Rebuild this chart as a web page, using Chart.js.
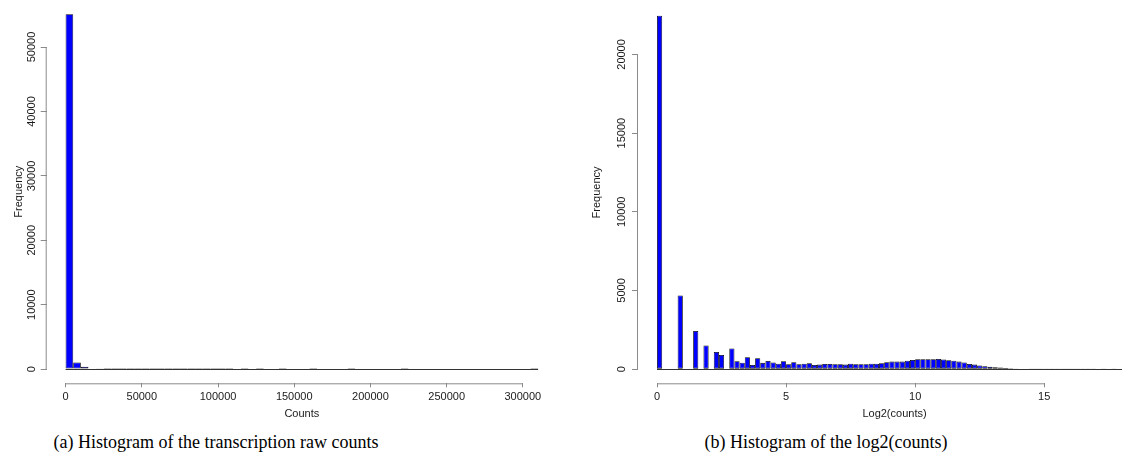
<!DOCTYPE html>
<html>
<head>
<meta charset="utf-8">
<script src="https://cdn.jsdelivr.net/npm/chart.js@4.4.1/dist/chart.umd.min.js"></script>
<style>
  html, body { margin: 0; padding: 0; background: #fff; overflow: hidden; }
  #page { position: relative; width: 1122px; height: 470px; overflow: hidden; }
  .panel { position: absolute; top: 0; width: 561px; height: 425px; overflow: hidden; }
  #left { left: 0; }
  #right { left: 561px; }
  .caption {
    position: absolute; white-space: nowrap; color: #000;
    font-family: "Liberation Serif", "DejaVu Serif", serif; font-size: 18px;
    transform: translateX(-50%);
  }
</style>
</head>
<body>
<div id="page">
  <div class="panel" id="left"><canvas id="rawChart" width="561" height="425"></canvas></div>
  <div class="panel" id="right"><canvas id="logChart" width="590" height="425"></canvas></div>
  <div class="caption" style="left:216px; top:432px">(a) Histogram of the transcription raw counts</div>
  <div class="caption" style="left:826px; top:432px">(b) Histogram of the log2(counts)</div>
</div>

<script>
// raw counts, bins of 5000 starting at 0
const rawBinWidth = 5000;
const rawFreq = [
  55100, 1040, 360, 110, 40, 22, 14, 9, 7, 5,
  4, 3, 3, 2, 2, 2, 1, 1, 1, 1,
  1, 1, 0, 1, 0, 1, 0, 0, 1, 0,
  0, 0, 1, 0, 0, 0, 0, 1, 0, 0,
  0, 0, 0, 0, 1, 0, 0, 0, 0, 0,
  0, 0, 0, 0, 0, 0, 0, 0, 0, 0,
  0, 1
];
const rawXTicks = [0, 50000, 100000, 150000, 200000, 250000, 300000];
const rawYTicks = [0, 10000, 20000, 30000, 40000, 50000];

// log2(counts), bins of 0.2 starting at 0
const logBinWidth = 0.2;
const logFreq = [
  22460, 0, 0, 0, 4680, 0, 0, 2430, 0, 1510,
  0, 1090, 900, 0, 1320, 505, 415, 756, 270, 693,
  400, 520, 430, 345, 500, 315, 440, 315, 350, 380,
  270, 290, 330, 330, 315, 315, 290, 350, 315, 315,
  315, 350, 350, 380, 440, 480, 480, 480, 540, 585,
  630, 630, 630, 630, 650, 610, 565, 540, 480, 420,
  330, 290, 230, 190, 150, 120, 100, 80, 60, 40,
  30, 22, 16, 12, 9, 6, 5, 4, 3, 2,
  2, 1, 1, 1, 1, 0, 1, 0, 1, 0,
  0, 1
];
const logXTicks = [0, 5, 10, 15];
const logYTicks = [0, 5000, 10000, 15000, 20000];

const barBlue = '#0000ff';
const axisGrey = '#8a8a8a';
const textColor = '#1a1a1a';
const sansFont = '"Liberation Sans", Arial, sans-serif';

// R-style axes: the axis line only runs from the first to the last tick,
// and empty bins still leave their outline along the base
const rAxes = {
  id: 'rAxes',
  afterDatasetsDraw(chart) {
    const { ctx, chartArea, scales: { x, y } } = chart;
    const xt = x.ticks, yt = y.ticks;
    ctx.save();
    ctx.lineWidth = 1;
    ctx.strokeStyle = axisGrey;
    ctx.beginPath();
    ctx.moveTo(x.getPixelForValue(xt[0].value), chartArea.bottom + 0.5);
    ctx.lineTo(x.getPixelForValue(xt[xt.length - 1].value), chartArea.bottom + 0.5);
    ctx.moveTo(chartArea.left - 0.5, y.getPixelForValue(yt[0].value));
    ctx.lineTo(chartArea.left - 0.5, y.getPixelForValue(yt[yt.length - 1].value));
    ctx.stroke();

    const edges = chart.options.binEdges;
    const base = Math.round(y.getPixelForValue(0)) + 0.5;
    ctx.strokeStyle = '#333';
    ctx.beginPath();
    ctx.moveTo(x.getPixelForValue(edges[0]), base);
    ctx.lineTo(x.getPixelForValue(edges[1]), base);
    ctx.stroke();
    ctx.restore();
  }
};

function histogram(canvasId, freq, binWidth, xTicks, yTicks, cfg) {
  const data = freq.map((f, i) => ({ x: (i + 0.5) * binWidth, y: f }));
  const lastEdge = freq.length * binWidth;
  const top = Math.max(...freq);

  return new Chart(document.getElementById(canvasId), {
    type: 'bar',
    data: {
      datasets: [{
        data: data,
        backgroundColor: barBlue,
        borderColor: '#000',
        borderWidth: 0.8,
        borderSkipped: false,
        inflateAmount: 0,
        barPercentage: 1,
        categoryPercentage: 1
      }]
    },
    options: {
      responsive: false,
      animation: false,
      binEdges: [0, lastEdge],
      layout: { padding: { left: 0, top: 0, right: cfg.rightPad, bottom: 0 } },
      plugins: { legend: { display: false }, tooltip: { enabled: false } },
      scales: {
        x: {
          type: 'linear',
          offset: false,
          // 4% breathing room on each side, like R's default axis range
          min: -0.04 * lastEdge,
          max: 1.04 * lastEdge,
          afterBuildTicks: s => { s.ticks = xTicks.map(v => ({ value: v })); },
          afterFit: s => { s.height = 41.7; },
          border: { display: false },
          grid: { offset: false, drawOnChartArea: false, tickLength: 4, color: axisGrey },
          ticks: {
            padding: 2.8, maxRotation: 0, color: textColor,
            font: { family: sansFont, size: 11 },
            callback: v => String(v)
          },
          title: {
            display: true, text: cfg.xTitle, color: textColor,
            font: { family: sansFont, size: 11 },
            padding: { top: 0, bottom: 4.4 }
          }
        },
        y: {
          min: -0.04 * top,
          max: 1.04 * top,
          afterBuildTicks: s => { s.ticks = yTicks.map(v => ({ value: v })); },
          afterFit: s => { s.width = cfg.yWidth; },
          border: { display: false },
          grid: { drawOnChartArea: false, tickLength: 6, color: axisGrey },
          ticks: {
            minRotation: 90, maxRotation: 90, crossAlign: 'center',
            padding: cfg.yTickPad, color: textColor,
            font: { family: sansFont, size: 11 },
            callback: v => String(v)
          },
          title: {
            display: true, text: 'Frequency', color: textColor,
            font: { family: sansFont, size: 11 },
            padding: { top: cfg.yTitlePad, bottom: 0 }
          }
        }
      }
    },
    plugins: [rAxes]
  });
}

histogram('rawChart', rawFreq, rawBinWidth, rawXTicks, rawYTicks, {
  xTitle: 'Counts', yWidth: 46.7, yTickPad: -6.6, yTitlePad: 12.7, rightPad: 4
});
histogram('logChart', logFreq, logBinWidth, logXTicks, logYTicks, {
  xTitle: 'Log2(counts)', yWidth: 77, yTickPad: -5, yTitlePad: 29.4, rightPad: 0
});
</script>
</body>
</html>
